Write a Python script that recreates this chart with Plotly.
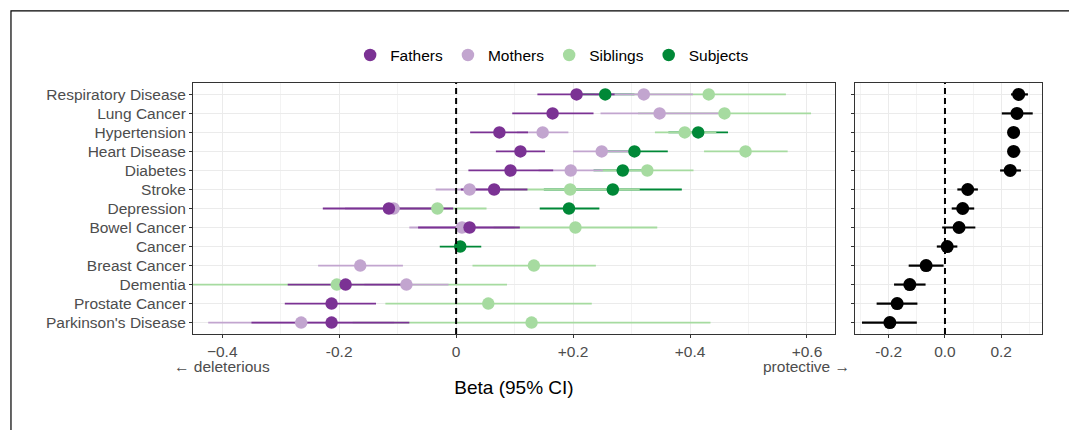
import plotly.graph_objects as go

# rows, top to bottom
diseases = ["Respiratory Disease", "Lung Cancer", "Hypertension", "Heart Disease",
            "Diabetes", "Stroke", "Depression", "Bowel Cancer", "Cancer",
            "Breast Cancer", "Dementia", "Prostate Cancer", "Parkinson's Disease"]

# left panel: beta and 95% CI per relative (None = not estimated)
fathers_beta = [0.206, 0.165, 0.074, 0.110, 0.093, 0.065, -0.115, 0.023, None, None, -0.189, -0.213, -0.213]
fathers_lo = [0.139, 0.096, 0.024, 0.068, 0.021, 0.008, -0.228, -0.065, None, None, -0.288, -0.293, -0.350]
fathers_hi = [0.271, 0.235, 0.123, 0.152, 0.166, 0.122, -0.005, 0.109, None, None, -0.090, -0.137, -0.080]

mothers_beta = [0.321, 0.348, 0.148, 0.249, 0.196, 0.023, -0.107, 0.010, None, -0.164, -0.085, None, -0.265]
mothers_lo = [0.237, 0.247, 0.104, 0.200, 0.141, -0.035, -0.190, -0.080, None, -0.236, -0.157, None, -0.424]
mothers_hi = [0.405, 0.449, 0.192, 0.298, 0.251, 0.081, -0.024, 0.100, None, -0.091, -0.013, None, -0.106]

siblings_beta = [0.432, 0.459, 0.391, 0.495, 0.327, 0.195, -0.032, 0.204, None, 0.133, -0.204, 0.055, 0.129]
siblings_lo = [0.300, 0.311, 0.340, 0.424, 0.247, 0.076, -0.116, 0.064, None, 0.028, -0.495, -0.121, -0.177]
siblings_hi = [0.564, 0.607, 0.445, 0.567, 0.406, 0.314, 0.052, 0.344, None, 0.239, 0.087, 0.232, 0.435]

subjects_beta = [0.255, None, 0.414, 0.305, 0.285, 0.268, 0.193, None, 0.007, None, None, None, None]
subjects_lo = [0.205, None, 0.363, 0.248, 0.235, 0.150, 0.143, None, -0.028, None, None, None, None]
subjects_hi = [0.305, None, 0.465, 0.362, 0.335, 0.386, 0.245, None, 0.043, None, None, None, None]

# right panel
overall_beta = [0.262, 0.256, 0.244, 0.244, 0.232, 0.081, 0.063, 0.050, 0.008, -0.067, -0.125, -0.170, -0.196]
overall_lo = [0.235, 0.202, 0.223, 0.223, 0.196, 0.044, 0.024, -0.010, -0.029, -0.129, -0.181, -0.243, -0.295]
overall_hi = [0.295, 0.312, 0.265, 0.268, 0.270, 0.117, 0.104, 0.108, 0.044, -0.005, -0.069, -0.098, -0.100]

groups = {
    "Fathers": (fathers_beta, fathers_lo, fathers_hi, "#7B3294"),
    "Mothers": (mothers_beta, mothers_lo, mothers_hi, "#C2A5CF"),
    "Siblings": (siblings_beta, siblings_lo, siblings_hi, "#A6DBA0"),
    "Subjects": (subjects_beta, subjects_lo, subjects_hi, "#008837"),
}
legend_order = ["Fathers", "Mothers", "Siblings", "Subjects"]

FONT = "Liberation Sans, Arial, sans-serif"
GRID = "#EBEBEB"


def err(beta, lo, hi):
    plus = [None if b is None else h - b for b, h in zip(beta, hi)]
    minus = [None if b is None else b - l for b, l in zip(beta, lo)]
    return plus, minus


fig = go.Figure()

# CI lines first (all under the points)
for name in ["Subjects", "Siblings", "Mothers", "Fathers"]:
    beta, lo, hi, col = groups[name]
    plus, minus = err(beta, lo, hi)
    fig.add_trace(go.Scatter(
        x=beta, y=diseases, mode="markers",
        marker=dict(size=1, opacity=0, color=col),
        error_x=dict(type="data", symmetric=False, array=plus, arrayminus=minus,
                     color=col, thickness=1.8, width=0),
        showlegend=False, hoverinfo="skip", xaxis="x", yaxis="y"))

# points
for name in ["Mothers", "Siblings", "Subjects", "Fathers"]:
    beta, lo, hi, col = groups[name]
    fig.add_trace(go.Scatter(
        x=beta, y=diseases, mode="markers", name=name,
        marker=dict(size=12.5, color=col),
        legendrank=legend_order.index(name) + 1,
        xaxis="x", yaxis="y"))

plus, minus = err(overall_beta, overall_lo, overall_hi)
fig.add_trace(go.Scatter(
    x=overall_beta, y=diseases, mode="markers",
    marker=dict(size=13, color="black"),
    error_x=dict(type="data", symmetric=False, array=plus, arrayminus=minus,
                 color="black", thickness=2.2, width=0),
    showlegend=False, xaxis="x2", yaxis="y2"))

axis_common = dict(showline=True, mirror=True, linecolor="#333333", linewidth=1,
                   ticks="outside", ticklen=3, tickcolor="#333333",
                   gridcolor=GRID, gridwidth=1.3, zeroline=False,
                   tickfont=dict(family=FONT, size=15.5, color="#4D4D4D"))

fig.update_layout(
    width=1077, height=430,
    margin=dict(l=185, r=43, t=75, b=104),
    plot_bgcolor="white", paper_bgcolor="white",
    font=dict(family=FONT, size=15.5, color="black"),
    xaxis=dict(domain=[0, 0.7562], range=[-0.45, 0.648],
               tickmode="array", tickvals=[-0.4, -0.2, 0, 0.2, 0.4, 0.6],
               ticktext=["\u22120.4", "-0.2", "0", "+0.2", "+0.4", "+0.6"],
               minor=dict(tickvals=[-0.3, -0.1, 0.1, 0.3, 0.5], showgrid=True,
                          gridcolor="#F3F3F3", gridwidth=0.8, ticks=""),
               title=dict(text="Beta (95% CI)", font=dict(family=FONT, size=19, color="black"),
                          standoff=22),
               **axis_common),
    xaxis2=dict(domain=[0.7797, 1], range=[-0.32, 0.345], anchor="y2",
                tickmode="array", tickvals=[-0.2, 0, 0.2], ticktext=["-0.2", "0.0", "0.2"],
                minor=dict(tickvals=[-0.3, -0.1, 0.1, 0.3], showgrid=True,
                           gridcolor="#F3F3F3", gridwidth=0.8, ticks=""),
                **axis_common),
    yaxis=dict(categoryorder="array", categoryarray=diseases[::-1], range=[-0.6, 12.6],
               **axis_common),
    yaxis2=dict(categoryorder="array", categoryarray=diseases[::-1], range=[-0.6, 12.6],
                anchor="x2", showticklabels=False, **axis_common),
    legend=dict(orientation="h", x=0.423, xanchor="center", y=1.11, yanchor="middle",
                font=dict(family=FONT, size=15.5, color="black"), itemwidth=30),
    showlegend=True,
)

# direction hints under the end ticks
for xv, txt in [(-0.4, "\u2190 deleterious"), (0.6, "protective \u2192")]:
    fig.add_annotation(x=xv, xref="x", y=-0.131, yref="paper", text=txt, showarrow=False,
                       xanchor="center", yanchor="middle",
                       font=dict(family=FONT, size=15.5, color="#4D4D4D"))

# dashed zero lines
for xr, yr in [("x", "y domain"), ("x2", "y2 domain")]:
    fig.add_shape(type="line", xref=xr, yref=yr, x0=0, x1=0, y0=0, y1=1,
                  line=dict(color="black", width=2, dash="6px,4px"))

# outer frame
fig.add_shape(type="rect", xref="paper", yref="paper",
              x0=-0.2144, x1=1.0335, y0=-0.45, y1=1.287,
              line=dict(color="black", width=1.2), fillcolor="rgba(0,0,0,0)", layer="below")

fig.write_html("out.html")
